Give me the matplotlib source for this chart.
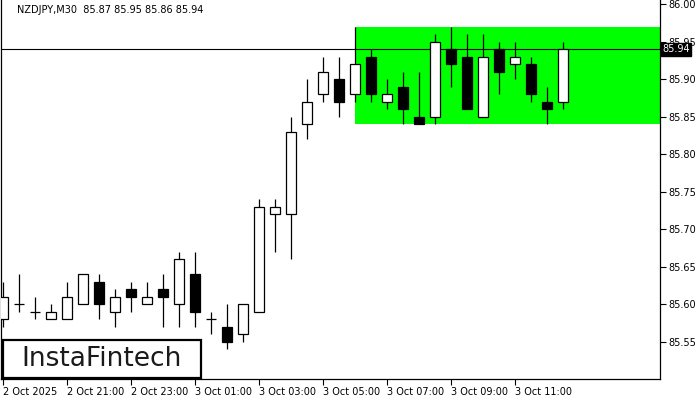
import matplotlib.pyplot as plt
from matplotlib.patches import Rectangle

# NZDJPY M30 candles, 2 Oct 19:00 .. 3 Oct 12:30
opens = [85.58, 85.60, 85.59, 85.58, 85.58, 85.60, 85.63, 85.59, 85.62, 85.60,
         85.62, 85.60, 85.64, 85.58, 85.57, 85.56, 85.59, 85.72, 85.72, 85.84,
         85.88, 85.90, 85.88, 85.93, 85.87, 85.89, 85.85, 85.85, 85.94, 85.93,
         85.85, 85.94, 85.92, 85.92, 85.87, 85.87]
highs = [85.63, 85.64, 85.61, 85.60, 85.63, 85.64, 85.64, 85.62, 85.63, 85.63,
         85.64, 85.67, 85.67, 85.59, 85.60, 85.60, 85.74, 85.74, 85.85, 85.90,
         85.93, 85.93, 85.97, 85.94, 85.90, 85.91, 85.91, 85.96, 85.97, 85.96,
         85.96, 85.95, 85.95, 85.93, 85.89, 85.95]
lows = [85.57, 85.59, 85.58, 85.58, 85.58, 85.60, 85.58, 85.57, 85.59, 85.60,
        85.57, 85.57, 85.57, 85.56, 85.54, 85.55, 85.59, 85.67, 85.66, 85.82,
        85.87, 85.85, 85.87, 85.87, 85.86, 85.84, 85.84, 85.84, 85.89, 85.86,
        85.85, 85.88, 85.90, 85.87, 85.84, 85.86]
closes = [85.61, 85.60, 85.59, 85.59, 85.61, 85.64, 85.60, 85.61, 85.61, 85.61,
          85.61, 85.66, 85.59, 85.58, 85.55, 85.60, 85.73, 85.73, 85.83, 85.87,
          85.91, 85.87, 85.92, 85.88, 85.88, 85.86, 85.84, 85.95, 85.92, 85.86,
          85.93, 85.91, 85.93, 85.88, 85.86, 85.94]

time_labels = ["2 Oct 2025", "2 Oct 21:00", "2 Oct 23:00", "3 Oct 01:00", "3 Oct 03:00",
               "3 Oct 05:00", "3 Oct 07:00", "3 Oct 09:00", "3 Oct 11:00"]
price_ticks = [85.55, 85.60, 85.65, 85.70, 85.75, 85.80, 85.85, 85.90, 85.95, 86.00]

zone_start = 22
zone_low = 85.84
zone_high = 85.97
last_price = 85.94

fig = plt.figure(figsize=(7, 4), dpi=100)
ax = fig.add_axes([1 / 700, 21 / 400, 659 / 700, 379 / 400])
xmax = 41.06
ymin, ymax = 85.5, 86.0055
ax.set_xlim(-0.125, xmax)
ax.set_ylim(ymin, ymax)

# green rectangle pattern
ax.add_patch(Rectangle((zone_start, zone_low), xmax - zone_start, zone_high - zone_low,
                       facecolor="#00ff00", edgecolor="none", zorder=1))

# current price line
ax.axhline(last_price, color="black", lw=0.8, zorder=2)

w = 0.64
for i in range(len(opens)):
    o, h, l, c = opens[i], highs[i], lows[i], closes[i]
    ax.vlines(i, l, h, color="black", lw=0.9, zorder=3)
    if o == c:
        ax.hlines(o, i - w / 2, i + w / 2, color="black", lw=0.9, zorder=4)
    else:
        face = "white" if c > o else "black"
        ax.add_patch(Rectangle((i - w / 2, min(o, c)), w, abs(c - o),
                               facecolor=face, edgecolor="black", lw=0.9, zorder=4))

# axes styling
ax.spines["top"].set_visible(False)
for s in ["left", "right", "bottom"]:
    ax.spines[s].set_linewidth(0.9)

ax.yaxis.tick_right()
ax.set_yticks(price_ticks)
ax.set_yticklabels(["%.2f" % p for p in price_ticks])
ax.tick_params(axis="y", direction="out", length=4, width=0.8, labelsize=7, pad=2)

ax.set_xticks(range(0, 36, 4))
ax.set_xticklabels(time_labels, ha="left")
ax.tick_params(axis="x", direction="out", length=4, width=0.8, labelsize=7, pad=2)

# price label box
ax.text(1.003, (last_price - ymin) / (ymax - ymin), "%.2f" % last_price,
        transform=ax.transAxes, ha="left", va="center", fontsize=7, color="white",
        bbox=dict(boxstyle="square,pad=0.15", facecolor="black", edgecolor="black"),
        zorder=10, clip_on=False)

# header
fig.text(17 / 700, 1 - 10 / 400, "NZDJPY,M30  85.87 85.95 85.86 85.94",
         fontsize=7, color="black", ha="left", va="center")

# watermark box
fig.patches.append(Rectangle((3 / 700, 22 / 400), 198 / 700, 38 / 400,
                             transform=fig.transFigure, facecolor="white",
                             edgecolor="black", lw=1.6, zorder=20))
fig.text(102 / 700, 1 - 359 / 400, "InstaFintech", fontsize=19, color="#1a1a1a",
         ha="center", va="center", zorder=21)

fig.savefig("out.png", dpi=100)
